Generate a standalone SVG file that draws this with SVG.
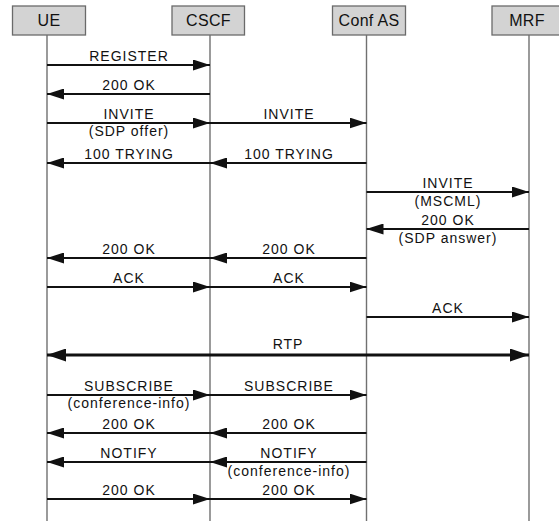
<svg xmlns="http://www.w3.org/2000/svg" width="559" height="522" viewBox="0 0 559 522">
<style>
.box{fill:#d3d3d3;stroke:#6a6a6a;stroke-width:1.3}
.hdr{font-family:"Liberation Sans",Arial,sans-serif;font-size:16px;letter-spacing:0.3px;fill:#111;text-anchor:middle}
.life{stroke:#707070;stroke-width:1.4;fill:none}
.msg{stroke:#111;stroke-width:2;fill:none;marker-end:url(#ah)}
.rtp{stroke:#111;stroke-width:3;fill:none;marker-end:url(#ahb);marker-start:url(#ahb)}
.lbl{font-family:"Liberation Sans",Arial,sans-serif;font-size:14px;letter-spacing:1px;fill:#111;text-anchor:middle}
</style>
<defs>
<marker id="ah" markerUnits="userSpaceOnUse" markerWidth="17" markerHeight="11" refX="17" refY="5.5" orient="auto"><path d="M0,0 L17,5.5 L0,11 z" fill="#111"/></marker>
<marker id="ahb" markerUnits="userSpaceOnUse" markerWidth="19" markerHeight="13" refX="19" refY="6.5" orient="auto-start-reverse"><path d="M0,0 L19,6.5 L0,13 z" fill="#111"/></marker>
</defs>
<rect width="559" height="522" fill="#fff"/>
<g id="UE"><rect class="box" x="12.5" y="6" width="73" height="29"/><text class="hdr" x="49" y="26">UE</text><line class="life" x1="47" y1="35" x2="47" y2="521"/></g>
<g id="CSCF"><rect class="box" x="172" y="6" width="72.5" height="29"/><text class="hdr" x="208.5" y="26">CSCF</text><line class="life" x1="210" y1="35" x2="210" y2="521"/></g>
<g id="ConfAS"><rect class="box" x="332.5" y="6" width="73" height="29"/><text class="hdr" x="369" y="26">Conf AS</text><line class="life" x1="366.5" y1="35" x2="366.5" y2="521"/></g>
<g id="MRF"><rect class="box" x="492" y="6" width="73" height="29"/><text class="hdr" x="527" y="26">MRF</text><line class="life" x1="529" y1="35" x2="529" y2="521"/></g>
<g id="connectors">
<line class="msg" x1="47" y1="65" x2="210" y2="65"/>
<line class="msg" x1="210" y1="94" x2="47" y2="94"/>
<line class="msg" x1="47" y1="123" x2="210" y2="123"/>
<line class="msg" x1="210" y1="123" x2="366.5" y2="123"/>
<line class="msg" x1="210" y1="163" x2="47" y2="163"/>
<line class="msg" x1="366.5" y1="163" x2="210" y2="163"/>
<line class="msg" x1="366.5" y1="192" x2="529" y2="192"/>
<line class="msg" x1="529" y1="229" x2="366.5" y2="229"/>
<line class="msg" x1="210" y1="258" x2="47" y2="258"/>
<line class="msg" x1="366.5" y1="258" x2="210" y2="258"/>
<line class="msg" x1="47" y1="287" x2="210" y2="287"/>
<line class="msg" x1="210" y1="287" x2="366.5" y2="287"/>
<line class="msg" x1="366.5" y1="317" x2="529" y2="317"/>
<line class="rtp" x1="47" y1="355" x2="529" y2="355"/>
<line class="msg" x1="47" y1="395" x2="210" y2="395"/>
<line class="msg" x1="210" y1="395" x2="366.5" y2="395"/>
<line class="msg" x1="210" y1="433" x2="47" y2="433"/>
<line class="msg" x1="366.5" y1="433" x2="210" y2="433"/>
<line class="msg" x1="210" y1="462" x2="47" y2="462"/>
<line class="msg" x1="366.5" y1="462" x2="210" y2="462"/>
<line class="msg" x1="47" y1="499" x2="210" y2="499"/>
<line class="msg" x1="210" y1="499" x2="366.5" y2="499"/>
</g>
<g id="labels">
<text class="lbl" x="129" y="61">REGISTER</text>
<text class="lbl" x="129" y="90">200 OK</text>
<text class="lbl" x="129" y="119">INVITE</text>
<text class="lbl" x="129" y="136">(SDP offer)</text>
<text class="lbl" x="289" y="119">INVITE</text>
<text class="lbl" x="129" y="159">100 TRYING</text>
<text class="lbl" x="289" y="159">100 TRYING</text>
<text class="lbl" x="448" y="188">INVITE</text>
<text class="lbl" x="448" y="206">(MSCML)</text>
<text class="lbl" x="448" y="225">200 OK</text>
<text class="lbl" x="448" y="243">(SDP answer)</text>
<text class="lbl" x="129" y="254">200 OK</text>
<text class="lbl" x="289" y="254">200 OK</text>
<text class="lbl" x="129" y="283">ACK</text>
<text class="lbl" x="289" y="283">ACK</text>
<text class="lbl" x="448" y="313">ACK</text>
<text class="lbl" x="288" y="349">RTP</text>
<text class="lbl" x="129" y="391">SUBSCRIBE</text>
<text class="lbl" x="129" y="408">(conference-info)</text>
<text class="lbl" x="289" y="391">SUBSCRIBE</text>
<text class="lbl" x="129" y="429">200 OK</text>
<text class="lbl" x="289" y="429">200 OK</text>
<text class="lbl" x="129" y="458">NOTIFY</text>
<text class="lbl" x="289" y="458">NOTIFY</text>
<text class="lbl" x="289" y="476">(conference-info)</text>
<text class="lbl" x="129" y="495">200 OK</text>
<text class="lbl" x="289" y="495">200 OK</text>
</g>
</svg>
